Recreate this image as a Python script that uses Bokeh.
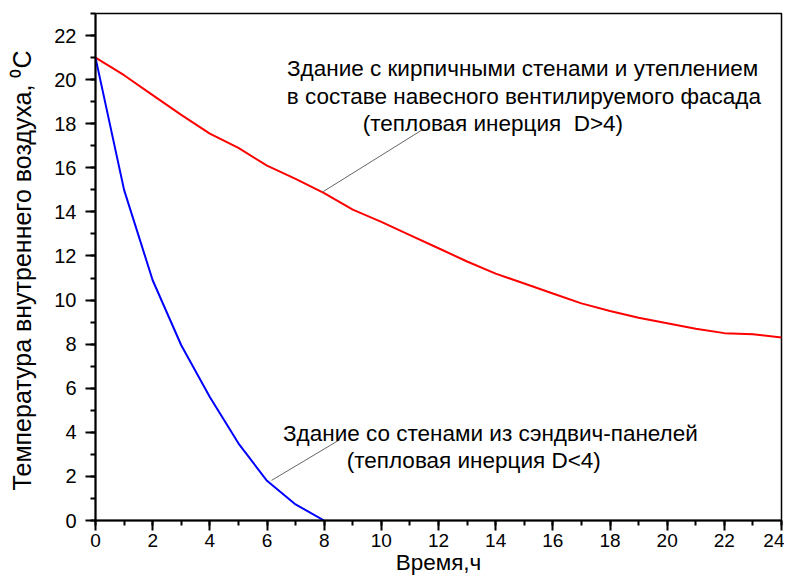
from bokeh.plotting import figure
from bokeh.models import Range1d, SingleIntervalTicker, Label, ColumnDataSource
from bokeh.embed import file_html
from bokeh.resources import INLINE

hours = list(range(0, 25))
brick_temp = [21.0, 20.2, 19.3, 18.4, 17.55, 16.9, 16.1, 15.5, 14.85, 14.1, 13.55, 12.95,
              12.35, 11.75, 11.2, 10.75, 10.3, 9.85, 9.5, 9.2, 8.95, 8.7, 8.5, 8.45, 8.3]
sandwich_hours = [0, 1, 2, 3, 4, 5, 6, 7, 8]
sandwich_temp = [21.0, 15.0, 10.9, 7.95, 5.6, 3.5, 1.8, 0.73, 0.0]

x_label = "Время,ч"
y_label = "Температура внутреннего воздуха,  \u2070C"
brick_note = ["Здание с кирпичными стенами и утеплением",
              "в составе навесного вентилируемого фасада",
              "(тепловая инерция\u00a0 D>4)"]
sandwich_note = ["Здание со стенами из сэндвич-панелей",
                 "(тепловая инерция D<4)"]

FONT = "Liberation Sans"

p = figure(width=784, height=577, output_backend="svg", toolbar_location=None,
           x_range=Range1d(0, 24), y_range=Range1d(0, 23),
           min_border_left=95, min_border_right=3, min_border_top=13, min_border_bottom=57)
p.grid.visible = False
p.outline_line_color = "black"
p.outline_line_width = 1.5
p.background_fill_color = "white"
p.border_fill_color = "white"

p.xaxis.ticker = SingleIntervalTicker(interval=2, num_minor_ticks=2)
p.yaxis.ticker = SingleIntervalTicker(interval=2, num_minor_ticks=2)
for ax in (p.xaxis, p.yaxis):
    ax.axis_line_width = 2
    ax.axis_line_color = "black"
    ax.major_tick_line_width = 2
    ax.minor_tick_line_width = 2
    ax.major_tick_line_color = "black"
    ax.minor_tick_line_color = "black"
    ax.major_tick_out = 10
    ax.major_tick_in = 0
    ax.minor_tick_out = 5
    ax.minor_tick_in = 0
    ax.major_label_text_font = FONT
    ax.major_label_text_font_size = "20px"
    ax.major_label_text_color = "black"
    ax.axis_label_text_font = FONT
    ax.axis_label_text_font_style = "normal"
    ax.axis_label_text_color = "black"

p.xaxis.major_label_text_font_size = "19px"
p.xaxis.major_label_standoff = 3
p.xaxis.axis_label = x_label
p.xaxis.axis_label_text_font_size = "22.5px"
p.xaxis.axis_label_standoff = 0
p.yaxis.axis_label = y_label
p.yaxis.axis_label_text_font_size = "25px"
p.yaxis.major_label_standoff = 9
p.yaxis.axis_label_standoff = 15

p.line(hours, brick_temp, line_color="#FF0000", line_width=2)
p.line(sandwich_hours, sandwich_temp, line_color="#0000FF", line_width=2)

# leader lines
leaders = ColumnDataSource(dict(x0=[11.44, 8.55], y0=[17.73, 3.67], x1=[7.94, 6.16], y1=[14.9, 1.82]))
p.segment(x0="x0", y0="y0", x1="x1", y1="y1", source=leaders, line_color="#666666", line_width=1)

brick_pos = [(6.70, 20.5), (6.69, 19.24), (9.35, 18.0)]
for txt, (x, y) in zip(brick_note, brick_pos):
    p.add_layout(Label(x=x, y=y, text=txt, text_font=FONT, text_font_size="22.5px",
                       text_color="black", text_baseline="alphabetic", text_align="left"))
sand_pos = [(6.56, 3.95), (8.79, 2.73)]
for txt, (x, y) in zip(sandwich_note, sand_pos):
    p.add_layout(Label(x=x, y=y, text=txt, text_font=FONT, text_font_size="22.5px",
                       text_color="black", text_baseline="alphabetic", text_align="left"))

open("out.html", "w").write(file_html(p, INLINE))
